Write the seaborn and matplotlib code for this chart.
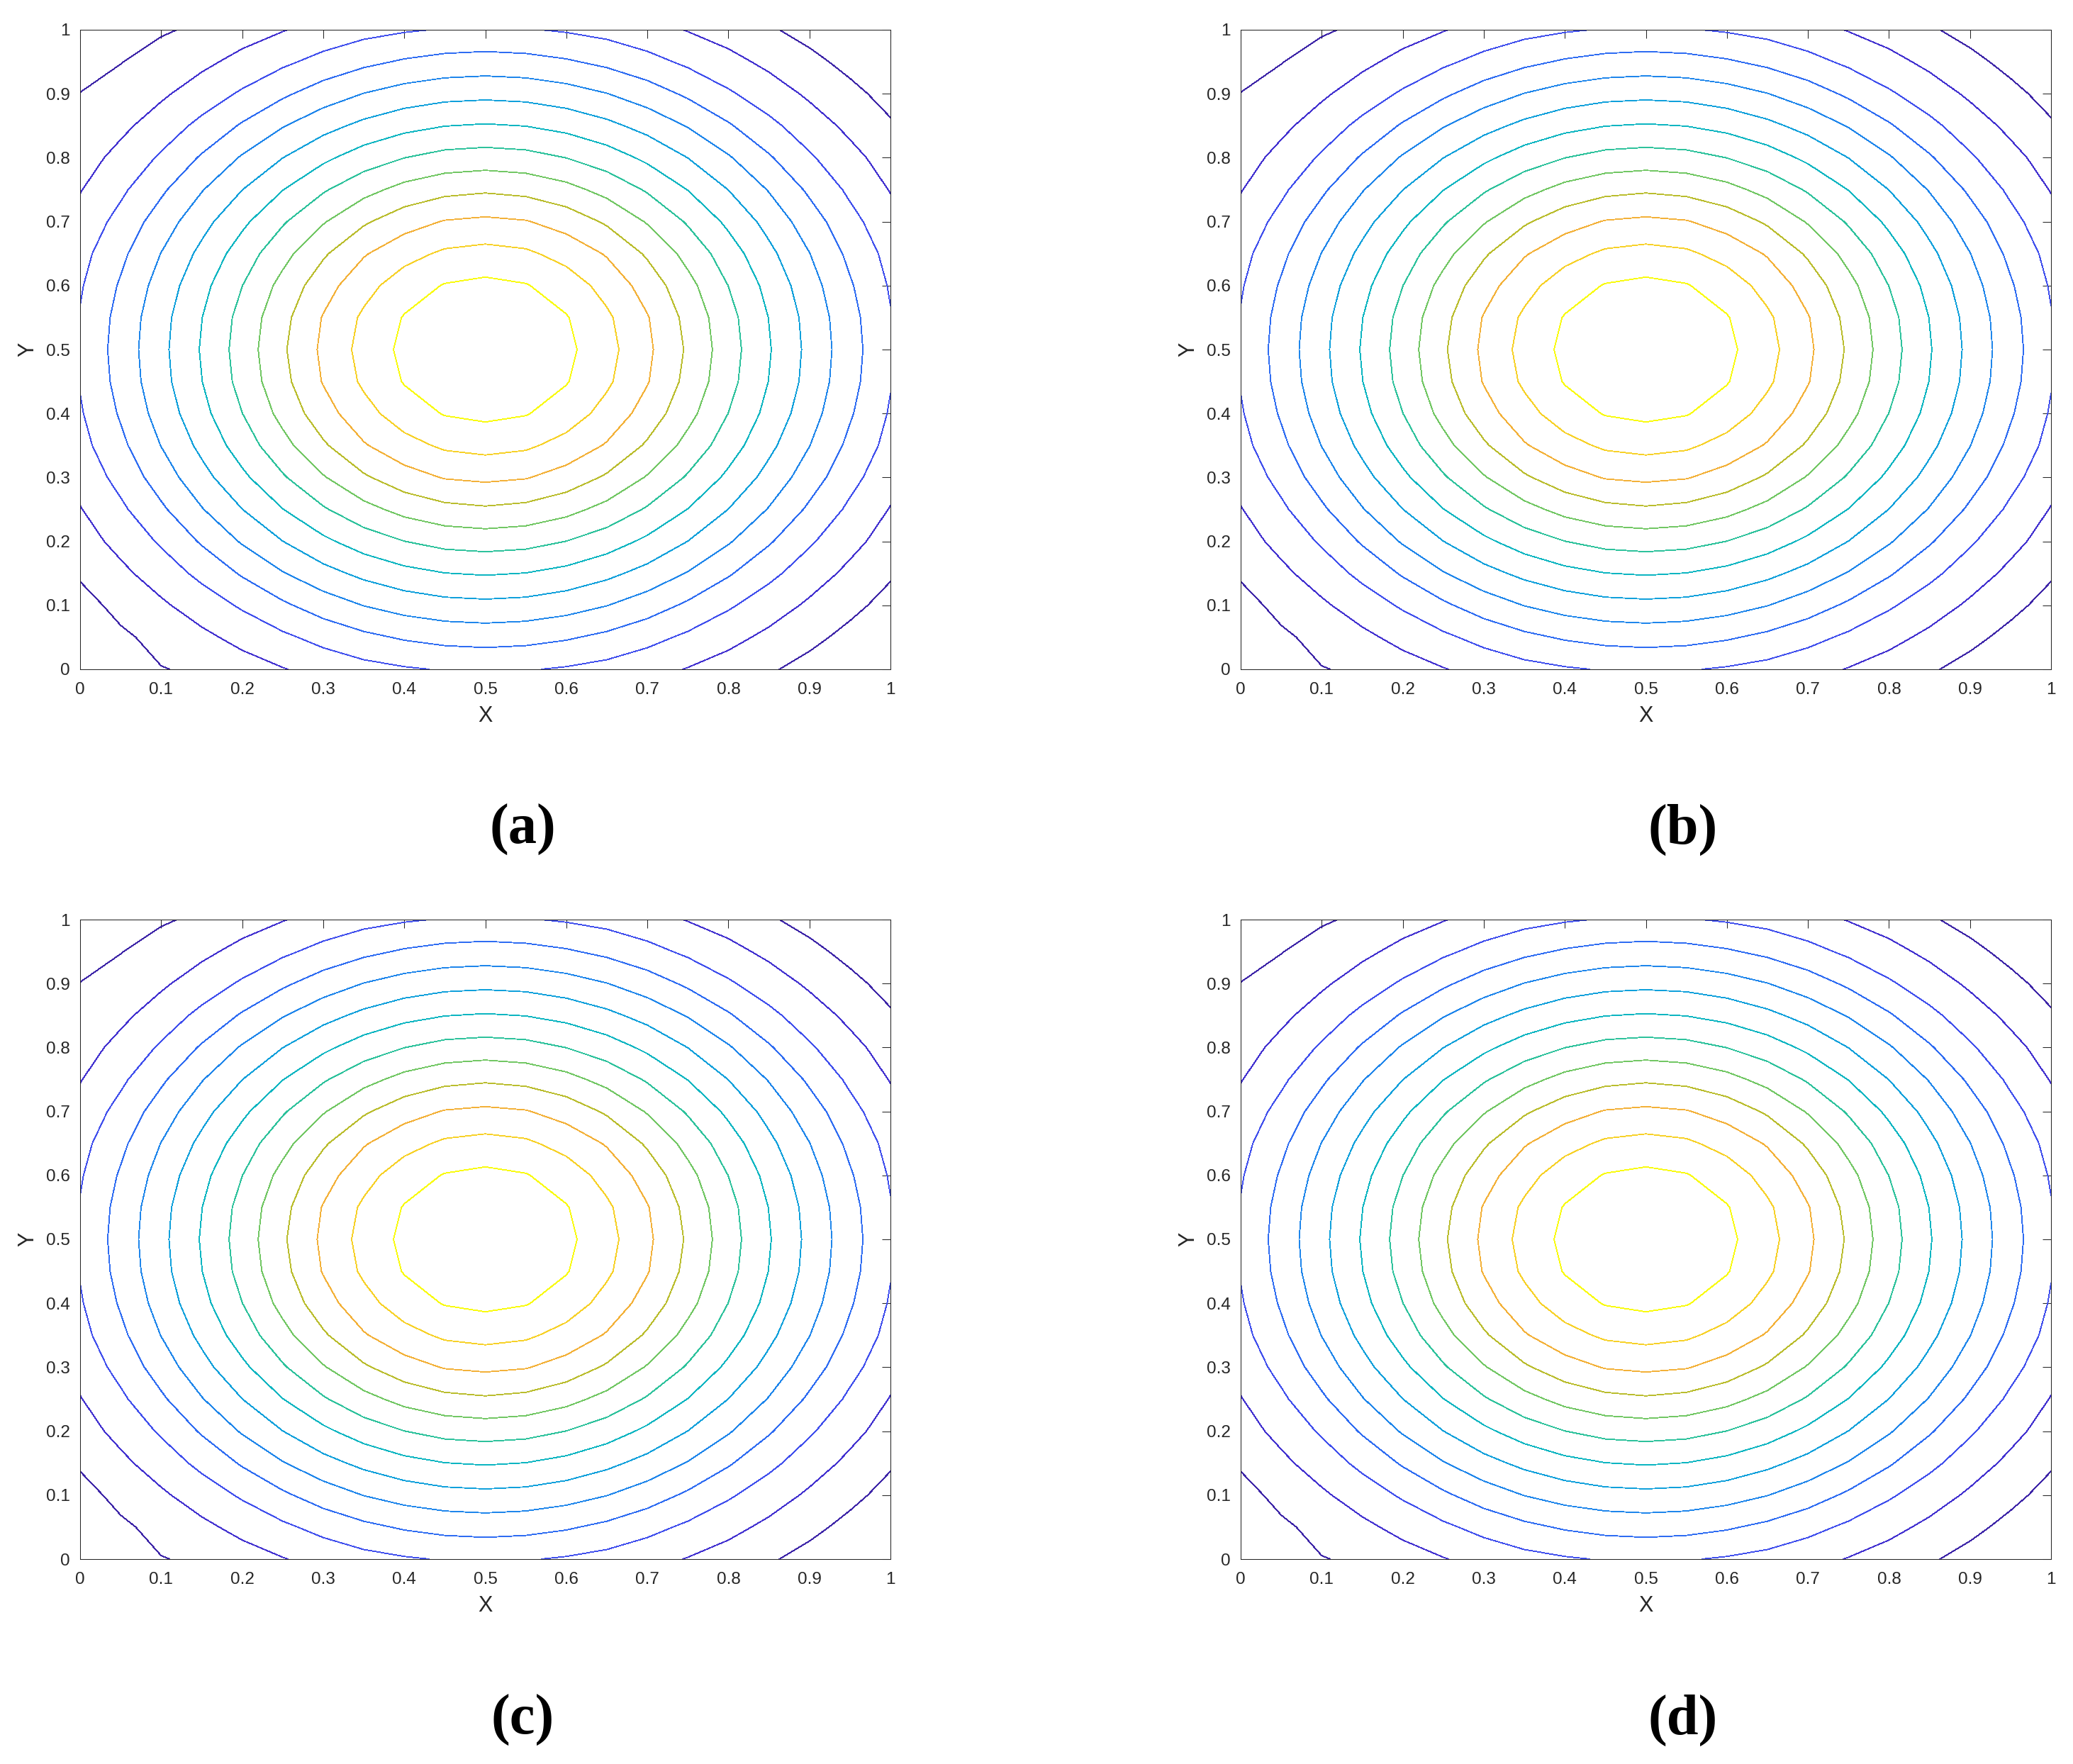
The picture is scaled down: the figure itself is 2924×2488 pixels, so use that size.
import matplotlib
matplotlib.use("Agg")
import matplotlib.pyplot as plt
from matplotlib.colors import LinearSegmentedColormap, Normalize
import seaborn as sns

# grid nodes (same on both axes)
grid_x = [0.00, 0.05, 0.10, 0.15, 0.20, 0.25, 0.30, 0.35, 0.40, 0.45, 0.50,
          0.55, 0.60, 0.65, 0.70, 0.75, 0.80, 0.85, 0.90, 0.95, 1.00]
grid_y = [0.00, 0.05, 0.10, 0.15, 0.20, 0.25, 0.30, 0.35, 0.40, 0.45, 0.50,
          0.55, 0.60, 0.65, 0.70, 0.75, 0.80, 0.85, 0.90, 0.95, 1.00]

field = [
    [-0.25, 0.50, 0.97, 1.11, 1.56, 1.95, 2.34, 2.67, 2.90, 3.06, 3.13, 3.06, 2.90, 2.67, 2.34, 1.95, 1.56, 1.11, 0.68, 0.23, -0.25],
    [0.23, 0.85, 1.25, 1.77, 2.30, 2.81, 3.32, 3.77, 4.11, 4.33, 4.41, 4.33, 4.11, 3.77, 3.32, 2.81, 2.30, 1.77, 1.25, 0.73, 0.23],
    [0.68, 1.25, 1.84, 2.48, 3.13, 3.83, 4.48, 5.02, 5.41, 5.66, 5.74, 5.66, 5.41, 5.02, 4.48, 3.83, 3.13, 2.48, 1.84, 1.25, 0.68],
    [1.11, 1.77, 2.48, 3.25, 4.11, 4.94, 5.66, 6.25, 6.70, 6.98, 7.08, 6.98, 6.70, 6.25, 5.66, 4.94, 4.11, 3.25, 2.48, 1.77, 1.11],
    [1.56, 2.30, 3.13, 4.11, 5.10, 5.99, 6.79, 7.48, 7.99, 8.33, 8.44, 8.33, 7.99, 7.48, 6.79, 5.99, 5.10, 4.11, 3.13, 2.30, 1.56],
    [1.95, 2.81, 3.83, 4.94, 5.99, 6.98, 7.89, 8.68, 9.31, 9.71, 9.86, 9.71, 9.31, 8.68, 7.89, 6.98, 5.99, 4.94, 3.83, 2.81, 1.95],
    [2.34, 3.32, 4.48, 5.66, 6.79, 7.89, 8.92, 9.86, 10.59, 11.06, 11.20, 11.06, 10.59, 9.86, 8.92, 7.89, 6.79, 5.66, 4.48, 3.32, 2.34],
    [2.67, 3.77, 5.02, 6.25, 7.48, 8.68, 9.86, 10.91, 11.65, 12.17, 12.34, 12.17, 11.65, 10.91, 9.86, 8.68, 7.48, 6.25, 5.02, 3.77, 2.67],
    [2.90, 4.11, 5.41, 6.70, 7.99, 9.31, 10.59, 11.65, 12.52, 13.06, 13.24, 13.06, 12.52, 11.65, 10.59, 9.31, 7.99, 6.70, 5.41, 4.11, 2.90],
    [3.06, 4.33, 5.66, 6.98, 8.33, 9.71, 11.06, 12.17, 13.06, 13.59, 13.77, 13.59, 13.06, 12.17, 11.06, 9.71, 8.33, 6.98, 5.66, 4.33, 3.06],
    [3.13, 4.41, 5.74, 7.08, 8.44, 9.86, 11.20, 12.34, 13.24, 13.77, 13.95, 13.77, 13.24, 12.34, 11.20, 9.86, 8.44, 7.08, 5.74, 4.41, 3.13],
    [3.06, 4.33, 5.66, 6.98, 8.33, 9.71, 11.06, 12.17, 13.06, 13.59, 13.77, 13.59, 13.06, 12.17, 11.06, 9.71, 8.33, 6.98, 5.66, 4.33, 3.06],
    [2.90, 4.11, 5.41, 6.70, 7.99, 9.31, 10.59, 11.65, 12.52, 13.06, 13.24, 13.06, 12.52, 11.65, 10.59, 9.31, 7.99, 6.70, 5.41, 4.11, 2.90],
    [2.67, 3.77, 5.02, 6.25, 7.48, 8.68, 9.86, 10.91, 11.65, 12.17, 12.34, 12.17, 11.65, 10.91, 9.86, 8.68, 7.48, 6.25, 5.02, 3.77, 2.67],
    [2.34, 3.32, 4.48, 5.66, 6.79, 7.89, 8.92, 9.86, 10.59, 11.06, 11.20, 11.06, 10.59, 9.86, 8.92, 7.89, 6.79, 5.66, 4.48, 3.32, 2.34],
    [1.95, 2.81, 3.83, 4.94, 5.99, 6.98, 7.89, 8.68, 9.31, 9.71, 9.86, 9.71, 9.31, 8.68, 7.89, 6.98, 5.99, 4.94, 3.83, 2.81, 1.95],
    [1.56, 2.30, 3.13, 4.11, 5.10, 5.99, 6.79, 7.48, 7.99, 8.33, 8.44, 8.33, 7.99, 7.48, 6.79, 5.99, 5.10, 4.11, 3.13, 2.30, 1.56],
    [1.11, 1.77, 2.48, 3.25, 4.11, 4.94, 5.66, 6.25, 6.70, 6.98, 7.08, 6.98, 6.70, 6.25, 5.66, 4.94, 4.11, 3.25, 2.48, 1.77, 1.11],
    [1.02, 1.25, 1.84, 2.48, 3.13, 3.83, 4.48, 5.02, 5.41, 5.66, 5.74, 5.66, 5.41, 5.02, 4.48, 3.83, 3.13, 2.48, 1.84, 1.25, 0.68],
    [0.55, 0.98, 1.25, 1.77, 2.30, 2.81, 3.32, 3.77, 4.11, 4.33, 4.41, 4.33, 4.11, 3.77, 3.32, 2.81, 2.30, 1.77, 1.25, 0.73, 0.23],
    [-0.25, 0.60, 0.93, 1.11, 1.56, 1.95, 2.34, 2.67, 2.90, 3.06, 3.13, 3.06, 2.90, 2.67, 2.34, 1.95, 1.56, 1.11, 0.68, 0.23, -0.25],
]

contour_levels = [1, 2, 3, 4, 5, 6, 7, 8, 9, 10, 11, 12, 13]
tick_values = [0, 0.1, 0.2, 0.3, 0.4, 0.5, 0.6, 0.7, 0.8, 0.9, 1]
tick_labels = ["0", "0.1", "0.2", "0.3", "0.4", "0.5", "0.6", "0.7", "0.8", "0.9", "1"]
panel_labels = ["(a)", "(b)", "(c)", "(d)"]

# parula-like colormap
parula = LinearSegmentedColormap.from_list("parula", [
    (0.00, "#3e26a8"), (0.10, "#4434d8"), (0.18, "#3f55f2"),
    (0.27, "#2a72f2"), (0.36, "#1a8ee8"), (0.44, "#0ca8d6"),
    (0.52, "#0cb9bb"), (0.60, "#36c495"), (0.68, "#7ec85a"),
    (0.76, "#c0bc2a"), (0.84, "#f6b03a"), (0.92, "#f7d227"),
    (1.00, "#f9fb0e"),
])


def draw_panel(ax):
    ax.contour(grid_x, grid_y, field, levels=contour_levels, cmap=parula,
               norm=Normalize(vmin=1, vmax=13), linewidths=0.6,
               antialiased=False)
    ax.set_xlim(0, 1)
    ax.set_ylim(0, 1)
    ax.set_xticks(tick_values)
    ax.set_xticklabels(tick_labels)
    ax.set_yticks(tick_values)
    ax.set_yticklabels(tick_labels)
    ax.tick_params(axis="both", direction="in", length=8.6, width=0.75,
                   color="#262626", labelcolor="#262626", labelsize=17.5,
                   top=True, right=True)
    ax.tick_params(axis="x", pad=13)
    ax.tick_params(axis="y", pad=10.5)
    for sp in ax.spines.values():
        sp.set_color("#262626")
        sp.set_linewidth(0.75)
        sp.set_visible(True)
    ax.set_xlabel("X", fontsize=22, color="#262626", va="center")
    ax.set_ylabel("Y", fontsize=22, color="#262626", va="center")
    ax.xaxis.set_label_coords(0.5, -0.0732)
    ax.yaxis.set_label_coords(-0.0643, 0.5)
    ax.grid(False)


sns.set_theme(style="white")
plt.rcParams["font.family"] = ["Liberation Sans", "DejaVu Sans"]

fig = plt.figure(figsize=(29.24, 24.88), dpi=100)
W, H = 2924, 2488
ax_w, ax_h = 1143, 902
lefts = [113, 1750]
bottoms = [944, 2199]
label_x = [737, 2374]
label_y = [1170, 2426]

for k, lab in enumerate(panel_labels):
    row, col = divmod(k, 2)
    ax = fig.add_axes([lefts[col] / W, 1 - bottoms[row] / H, ax_w / W, ax_h / H])
    draw_panel(ax)
    fig.text(label_x[col] / W, 1 - label_y[row] / H, lab, ha="center", va="center",
             fontsize=58, fontweight="bold", family="Liberation Serif", color="black")

fig.savefig("out.png", dpi=100, facecolor="white")
plt.close(fig)
